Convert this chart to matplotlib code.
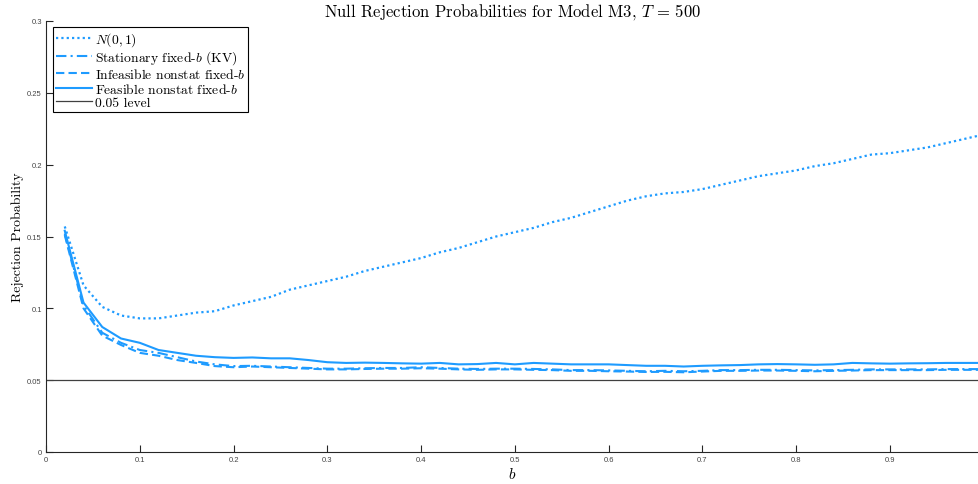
import matplotlib
matplotlib.use('Agg')
import matplotlib.pyplot as plt
import numpy as np

# bandwidth ratio b
b = np.round(np.arange(0.02, 1.0001, 0.02), 2)

rp_normal = [0.157, 0.116, 0.101, 0.095, 0.093, 0.093, 0.095, 0.097, 0.098, 0.102,
             0.105, 0.108, 0.113, 0.116, 0.119, 0.122, 0.126, 0.129, 0.132, 0.135,
             0.139, 0.142, 0.146, 0.150, 0.153, 0.156, 0.160, 0.163, 0.167, 0.171,
             0.175, 0.178, 0.180, 0.181, 0.183, 0.186, 0.189, 0.192, 0.194, 0.196,
             0.199, 0.201, 0.204, 0.207, 0.208, 0.210, 0.212, 0.215, 0.218, 0.221]

rp_stat_kv = [0.152, 0.102, 0.083, 0.076, 0.071, 0.069, 0.066, 0.063, 0.061, 0.0598,
              0.060, 0.0595, 0.059, 0.0585, 0.058, 0.058, 0.0583, 0.0585, 0.0585, 0.059,
              0.0585, 0.058, 0.0578, 0.058, 0.058, 0.0578, 0.0575, 0.057, 0.057, 0.0568,
              0.0565, 0.0562, 0.0565, 0.0562, 0.0565, 0.057, 0.057, 0.0572, 0.0572, 0.057,
              0.0568, 0.057, 0.0572, 0.0575, 0.0575, 0.0575, 0.0575, 0.0577, 0.0577, 0.0577]

rp_infeasible = [0.151, 0.100, 0.081, 0.0745, 0.069, 0.067, 0.064, 0.062, 0.0598, 0.059,
                 0.0595, 0.059, 0.0585, 0.058, 0.0575, 0.0575, 0.0578, 0.058, 0.058, 0.0583,
                 0.058, 0.0575, 0.0572, 0.0575, 0.0575, 0.0572, 0.057, 0.0565, 0.0565, 0.0562,
                 0.056, 0.0557, 0.0558, 0.0555, 0.056, 0.0565, 0.0565, 0.0567, 0.0567, 0.0565,
                 0.0562, 0.0565, 0.0567, 0.057, 0.057, 0.057, 0.057, 0.0572, 0.0572, 0.0572]

rp_feasible = [0.154, 0.104, 0.087, 0.079, 0.076, 0.071, 0.069, 0.067, 0.066, 0.0655,
               0.0658, 0.0652, 0.0652, 0.064, 0.0625, 0.062, 0.0622, 0.062, 0.0617, 0.0615,
               0.062, 0.061, 0.0612, 0.062, 0.061, 0.062, 0.0615, 0.061, 0.061, 0.061,
               0.0605, 0.060, 0.060, 0.0595, 0.060, 0.0603, 0.0605, 0.061, 0.0612, 0.061,
               0.0607, 0.061, 0.062, 0.0617, 0.0615, 0.0617, 0.0618, 0.062, 0.062, 0.062]

level = 0.05
xticks = [0, 0.1, 0.2, 0.3, 0.4, 0.5, 0.6, 0.7, 0.8, 0.9]
yticks = [0, 0.05, 0.1, 0.15, 0.2, 0.25, 0.3]

plt.rcParams['mathtext.fontset'] = 'cm'
plt.rcParams['axes.formatter.use_mathtext'] = True
serif = 'cmr10'
blue = '#1e9bff'

fig = plt.figure(figsize=(9.79, 4.85), dpi=100)
ax = fig.add_axes([46 / 979, 32 / 485, 933 / 979, 431 / 485])

ax.plot(b, rp_normal, color=blue, lw=1.6, dashes=(1, 1.4), label=r'$N(0,1)$')
ax.plot(b, rp_stat_kv, color=blue, lw=1.5, dashes=(5, 2, 1, 2), label=r'Stationary fixed-$b$ (KV)')
ax.plot(b, rp_infeasible, color=blue, lw=1.5, dashes=(4, 2), label=r'Infeasible nonstat fixed-$b$')
ax.plot(b, rp_feasible, color=blue, lw=1.5, label=r'Feasible nonstat fixed-$b$')
ax.axhline(level, color='#404040', lw=0.9, label='0.05 level')

ax.set_xlim(0, 0.995)
ax.set_ylim(0, 0.3)
ax.set_xticks(xticks)
ax.set_xticklabels([('%g' % t) for t in xticks])
ax.set_yticks(yticks)
ax.set_yticklabels([('%g' % t) for t in yticks])
ax.tick_params(direction='in', length=5, width=0.8, labelsize=5.5, labelcolor='#444444',
               color='#262626', pad=3)
for lab in ax.get_xticklabels() + ax.get_yticklabels():
    lab.set_fontfamily('Liberation Sans')

ax.spines['top'].set_visible(False)
ax.spines['right'].set_visible(False)
for s in ['left', 'bottom']:
    ax.spines[s].set_linewidth(0.8)
    ax.spines[s].set_color('#262626')

ax.set_title(r'Null Rejection Probabilities for Model M3, $T\,=\,500$',
             fontfamily=serif, fontsize=12, pad=3)
ax.set_xlabel(r'$b$', fontsize=11, labelpad=2)
ax.set_ylabel('Rejection Probability', fontfamily=serif, fontsize=10, labelpad=2)

leg = ax.legend(loc='upper left', bbox_to_anchor=(0.0075, 0.985), fancybox=False,
                edgecolor='black', framealpha=1, handlelength=2.7, handletextpad=0.15,
                borderpad=0.2, labelspacing=0.05, borderaxespad=0,
                prop={'family': serif, 'size': 9.8})
leg.get_frame().set_linewidth(0.8)

fig.savefig('out.png', dpi=100)
plt.close()
